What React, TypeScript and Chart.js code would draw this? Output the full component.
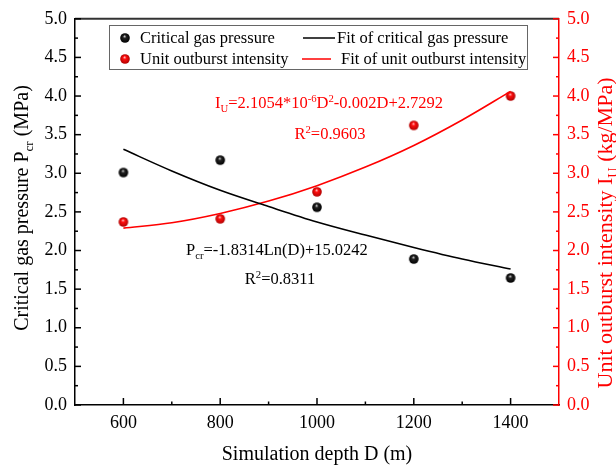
import React, { useEffect, useRef } from "react";
import { Chart, registerables } from "chart.js";

Chart.register(...registerables);

// ---- data ----
const depths = [600, 800, 1000, 1200, 1400];
const criticalGasPressure = [3.01, 3.17, 2.56, 1.89, 1.645];
const unitOutburstIntensity = [2.37, 2.41, 2.76, 3.62, 4.0];
const fitDepths = [600, 700, 800, 900, 1000, 1100, 1200, 1300, 1400];
const fitCriticalGasPressure = [3.31, 3.03, 2.78, 2.57, 2.37, 2.2, 2.04, 1.89, 1.76];
const fitUnitOutburstIntensity = [2.29, 2.36, 2.48, 2.64, 2.84, 3.08, 3.36, 3.69, 4.06];
const xTicks = [600, 800, 1000, 1200, 1400];
const xMinorTicks = [700, 900, 1100, 1300];
const yTicks = [0, 0.5, 1, 1.5, 2, 2.5, 3, 3.5, 4, 4.5, 5];
const yMinorTicks = [0.25, 0.75, 1.25, 1.75, 2.25, 2.75, 3.25, 3.75, 4.25, 4.75];

const FONT = "'Liberation Serif', 'Times New Roman', serif";
const RED = "#ff0000";

type Part = { t: string; sub?: boolean; sup?: boolean };

function setFont(ctx: CanvasRenderingContext2D, size: number) {
  ctx.font = `${size}px ${FONT}`;
}

function richWidth(ctx: CanvasRenderingContext2D, parts: Part[], size: number) {
  let w = 0;
  for (const p of parts) {
    setFont(ctx, p.sub || p.sup ? size * 0.65 : size);
    w += ctx.measureText(p.t).width;
  }
  return w;
}

function drawRich(
  ctx: CanvasRenderingContext2D,
  parts: Part[],
  x: number,
  y: number,
  size: number,
  color: string,
  align: "left" | "center"
) {
  const w = richWidth(ctx, parts, size);
  let cx = align === "center" ? x - w / 2 : x;
  ctx.fillStyle = color;
  ctx.textBaseline = "alphabetic";
  ctx.textAlign = "left";
  for (const p of parts) {
    const s = p.sub || p.sup ? size * 0.65 : size;
    setFont(ctx, s);
    const dy = p.sub ? size * 0.25 : p.sup ? -size * 0.38 : 0;
    ctx.fillText(p.t, cx, y + dy);
    cx += ctx.measureText(p.t).width;
  }
}

function makeBall(light: string, mid: string, dark: string, r: number) {
  const c = document.createElement("canvas");
  const s = Math.ceil(r * 2 + 2);
  c.width = s;
  c.height = s;
  const g = c.getContext("2d")!;
  const cx = s / 2;
  const cy = s / 2;
  const grad = g.createRadialGradient(cx - r * 0.1, cy - r * 0.4, 0, cx, cy, r);
  grad.addColorStop(0, light);
  grad.addColorStop(0.35, mid);
  grad.addColorStop(1, dark);
  g.fillStyle = grad;
  g.beginPath();
  g.arc(cx, cy, r, 0, Math.PI * 2);
  g.fill();
  return c;
}

export default function App() {
  const ref = useRef<HTMLCanvasElement | null>(null);

  useEffect(() => {
    const canvas = ref.current;
    if (!canvas) return;
    const blackBall = makeBall("#e8e8e8", "#222222", "#000000", 4.8);
    const redBall = makeBall("#ffd8d8", "#ff1010", "#b00000", 4.8);

    const overlay = {
      id: "overlay",
      afterDraw(chart: any) {
        const { ctx, chartArea: ca, scales } = chart;
        const xs = scales.x;
        const yl = scales.y;
        const yr = scales.y1;
        ctx.save();
        // top frame
        ctx.strokeStyle = "#333333";
        ctx.lineWidth = 2;
        ctx.beginPath();
        ctx.moveTo(ca.left, ca.top);
        ctx.lineTo(ca.right, ca.top);
        ctx.stroke();

        // inward ticks
        ctx.lineWidth = 1.5;
        const tick = (color: string, x1: number, y1: number, x2: number, y2: number) => {
          ctx.strokeStyle = color;
          ctx.beginPath();
          ctx.moveTo(x1, y1);
          ctx.lineTo(x2, y2);
          ctx.stroke();
        };
        for (const v of xTicks) {
          const px = xs.getPixelForValue(v);
          tick("#000", px, ca.bottom, px, ca.bottom - 7);
        }
        for (const v of xMinorTicks) {
          const px = xs.getPixelForValue(v);
          tick("#000", px, ca.bottom, px, ca.bottom - 3.5);
        }
        for (const v of yTicks) {
          const py = yl.getPixelForValue(v);
          tick("#000", ca.left, py, ca.left + 6, py);
          const pr = yr.getPixelForValue(v);
          tick(RED, ca.right, pr, ca.right - 6, pr);
        }
        for (const v of yMinorTicks) {
          const py = yl.getPixelForValue(v);
          tick("#000", ca.left, py, ca.left + 3, py);
          const pr = yr.getPixelForValue(v);
          tick(RED, ca.right, pr, ca.right - 3, pr);
        }

        // axis titles
        drawRich(ctx, [{ t: "Simulation depth D (m)" }], (ca.left + ca.right) / 2, 460, 20, "#000", "center");

        ctx.save();
        ctx.translate(28, 208);
        ctx.rotate(-Math.PI / 2);
        drawRich(
          ctx,
          [{ t: "Critical gas pressure P" }, { t: "cr", sub: true }, { t: " (MPa)" }],
          0,
          0,
          20,
          "#000",
          "center"
        );
        ctx.restore();

        ctx.save();
        ctx.translate(612, 233);
        ctx.rotate(-Math.PI / 2);
        drawRich(
          ctx,
          [{ t: "Unit outburst intensity I" }, { t: "U", sub: true }, { t: " (kg/MPa)" }],
          0,
          0,
          22,
          RED,
          "center"
        );
        ctx.restore();

        // legend
        ctx.fillStyle = "#fff";
        ctx.fillRect(109, 25, 418, 44);
        ctx.strokeStyle = "#666";
        ctx.lineWidth = 1;
        ctx.strokeRect(109.5, 25.5, 418, 44);
        ctx.drawImage(blackBall, 125 - blackBall.width / 2, 38 - blackBall.height / 2);
        ctx.drawImage(redBall, 125 - redBall.width / 2, 59 - redBall.height / 2);
        drawRich(ctx, [{ t: "Critical gas pressure" }], 140, 43, 16.5, "#000", "left");
        drawRich(ctx, [{ t: "Unit outburst intensity" }], 140, 64, 16.5, "#000", "left");
        ctx.lineWidth = 1.5;
        tick("#000", 303, 38, 335, 38);
        tick(RED, 302, 59, 331, 59);
        drawRich(ctx, [{ t: "Fit of critical gas pressure" }], 337, 43, 16.5, "#000", "left");
        drawRich(ctx, [{ t: "Fit of unit outburst intensity" }], 341, 64, 16.5, "#000", "left");

        // fit equations
        drawRich(
          ctx,
          [
            { t: "I" },
            { t: "U", sub: true },
            { t: "=2.1054*10" },
            { t: "-6", sup: true },
            { t: "D" },
            { t: "2", sup: true },
            { t: "-0.002D+2.7292" },
          ],
          215,
          108,
          16.5,
          RED,
          "left"
        );
        drawRich(ctx, [{ t: "R" }, { t: "2", sup: true }, { t: "=0.9603" }], 330, 139, 16.5, RED, "center");
        drawRich(
          ctx,
          [{ t: "P" }, { t: "cr", sub: true }, { t: "=-1.8314Ln(D)+15.0242" }],
          186,
          255,
          16.5,
          "#000",
          "left"
        );
        drawRich(ctx, [{ t: "R" }, { t: "2", sup: true }, { t: "=0.8311" }], 280, 284, 16.5, "#000", "center");
        ctx.restore();
      },
    };

    const tickFont = { family: FONT, size: 18 };
    const yTickBuild = (scale: any) => {
      scale.ticks = yTicks.map((v) => ({ value: v }));
    };

    const chart = new Chart(canvas, {
      type: "scatter",
      data: {
        datasets: [
          {
            label: "Fit of critical gas pressure",
            data: fitDepths.map((x, i) => ({ x, y: fitCriticalGasPressure[i] })),
            showLine: true,
            borderColor: "#000",
            borderWidth: 1.6,
            pointRadius: 0,
            cubicInterpolationMode: "monotone",
            yAxisID: "y",
          } as any,
          {
            label: "Fit of unit outburst intensity",
            data: fitDepths.map((x, i) => ({ x, y: fitUnitOutburstIntensity[i] })),
            showLine: true,
            borderColor: RED,
            borderWidth: 1.6,
            pointRadius: 0,
            cubicInterpolationMode: "monotone",
            yAxisID: "y1",
          } as any,
          {
            label: "Critical gas pressure",
            data: depths.map((x, i) => ({ x, y: criticalGasPressure[i] })),
            pointStyle: blackBall,
            pointRadius: 5,
            yAxisID: "y",
          } as any,
          {
            label: "Unit outburst intensity",
            data: depths.map((x, i) => ({ x, y: unitOutburstIntensity[i] })),
            pointStyle: redBall,
            pointRadius: 5,
            yAxisID: "y1",
          } as any,
        ],
      },
      options: {
        responsive: false,
        animation: false,
        layout: { padding: { top: 15, left: 0, right: 0, bottom: 0 } },
        plugins: { legend: { display: false }, tooltip: { enabled: false } },
        scales: {
          x: {
            type: "linear",
            min: 500,
            max: 1500,
            afterBuildTicks: (scale: any) => {
              scale.ticks = xTicks.map((v) => ({ value: v }));
            },
            afterFit: (scale: any) => {
              scale.height = 63;
            },
            grid: { display: true, drawOnChartArea: false, drawTicks: false },
            border: { display: true, color: "#000", width: 1.5 },
            ticks: { font: tickFont, color: "#000", padding: 7, maxRotation: 0, callback: (v: any) => String(v) },
          },
          y: {
            type: "linear",
            position: "left",
            min: 0,
            max: 5,
            afterBuildTicks: yTickBuild,
            afterFit: (scale: any) => {
              scale.width = 75;
            },
            grid: { display: true, drawOnChartArea: false, drawTicks: false },
            border: { display: true, color: "#000", width: 1.5 },
            ticks: { font: tickFont, color: "#000", padding: 8, callback: (v: any) => Number(v).toFixed(1) },
          },
          y1: {
            type: "linear",
            position: "right",
            min: 0,
            max: 5,
            afterBuildTicks: yTickBuild,
            afterFit: (scale: any) => {
              scale.width = 57;
            },
            grid: { display: true, drawOnChartArea: false, drawTicks: false },
            border: { display: true, color: RED, width: 1.5 },
            ticks: { font: tickFont, color: RED, padding: 8, callback: (v: any) => Number(v).toFixed(1) },
          },
        },
      },
      plugins: [overlay],
    });
    return () => chart.destroy();
  }, []);

  return (
    <div style={{ position: "absolute", left: 0, top: 0, width: 616, height: 468, background: "#fff" }}>
      <canvas ref={ref} width={616} height={468} style={{ display: "block" }} />
    </div>
  );
}
